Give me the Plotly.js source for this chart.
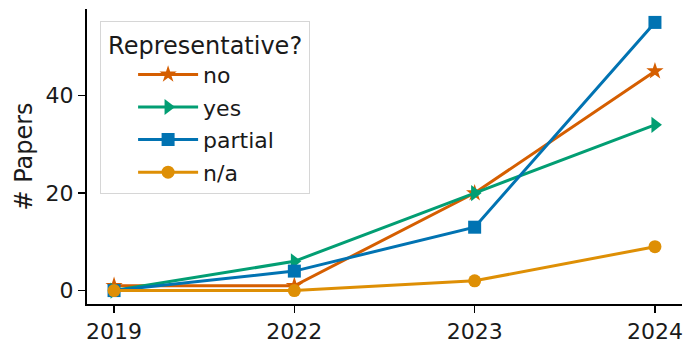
<!DOCTYPE html>
<html>
<head>
<meta charset="utf-8">
<script src="https://cdn.plot.ly/plotly-3.0.1.min.js"></script>
<style>
  html, body { margin: 0; padding: 0; background: #fff; }
  #chart { width: 685px; height: 340px; }
</style>
</head>
<body>
<div id="chart"></div>
<script>
// Papers per year, split by whether the data was representative
const years = ['2019', '2022', '2023', '2024'];
const seriesNames = ['no', 'yes', 'partial', 'n/a'];
const noVals = [1, 1, 20, 45];
const yesVals = [0, 6, 20, 34];
const partialVals = [0, 4, 13, 55];
const naVals = [0, 0, 2, 9];
const yTicks = [0, 20, 40];

const seriesValues = [noVals, yesVals, partialVals, naVals];
const colors = ['#d55e00', '#029e73', '#0173b2', '#de8f05'];
const symbols = ['star', 'triangle-right', 'square', 'circle'];
const sizes = [13, 14, 13, 13];

const FONT = 'DejaVu Sans, sans-serif';
const INK = '#1a1a1a';

const traces = seriesNames.map((name, i) => ({
  type: 'scatter',
  mode: 'lines+markers',
  name: name,
  legendgroup: name,
  x: years,
  y: seriesValues[i],
  line: { color: colors[i], width: 3 },
  marker: { color: colors[i], symbol: symbols[i], size: sizes[i], line: { width: 0 } },
  cliponaxis: false
}));

const axisCommon = {
  showgrid: false,
  zeroline: false,
  showline: true,
  linecolor: '#000',
  linewidth: 2,
  ticks: 'outside',
  ticklen: 7,
  tickwidth: 1.6,
  tickcolor: '#000',
  tickfont: { family: FONT, size: 22, color: INK },
  fixedrange: true
};

const layout = {
  width: 685,
  height: 340,
  margin: { l: 87, r: 3, t: 9, b: 36 },
  paper_bgcolor: '#fff',
  plot_bgcolor: '#fff',
  font: { family: FONT, color: INK, size: 22 },
  showlegend: true,
  xaxis: Object.assign({}, axisCommon, {
    type: 'category',
    range: [-0.15, 3.15]
  }),
  yaxis: Object.assign({}, axisCommon, {
    range: [-2.75, 57.75],
    tickvals: yTicks,
    ticktext: yTicks.map(String),
    title: { text: '# Papers', font: { family: FONT, size: 24, color: INK }, standoff: 6 }
  }),
  legend: {
    x: 0.022,
    y: 0.958,
    xanchor: 'left',
    yanchor: 'top',
    bgcolor: 'rgba(255,255,255,0.85)',
    bordercolor: '#d6d6d6',
    borderwidth: 1,
    itemwidth: 60,
    indentation: 32,
    font: { family: FONT, size: 22, color: INK },
    title: { text: '\u2009Representative?\u2009', side: 'top center', font: { family: FONT, size: 24, color: INK } },
    tracegroupgap: 1
  }
};

Plotly.newPlot('chart', traces, layout, { staticPlot: true, displayModeBar: false });
</script>
</body>
</html>
